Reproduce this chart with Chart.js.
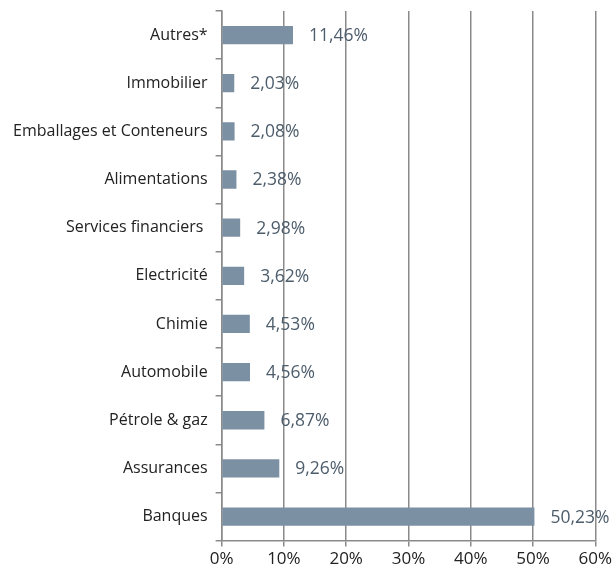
<!DOCTYPE html>
<html>
<head>
<meta charset="utf-8">
<script src="https://cdn.jsdelivr.net/npm/chart.js@4"></script>
<style>
  html, body { margin: 0; padding: 0; background: #fff; }
  #wrap { width: 614px; height: 573px; }
</style>
</head>
<body>
<div id="wrap"><canvas id="barchart"></canvas></div>
<script>
var categories = ['Autres*', 'Immobilier', 'Emballages et Conteneurs', 'Alimentations',
    'Services financiers ', 'Electricité', 'Chimie', 'Automobile', 'Pétrole & gaz',
    'Assurances', 'Banques'];
var values = [11.46, 2.03, 2.08, 2.38, 2.98, 3.62, 4.53, 4.56, 6.87, 9.26, 50.23];
var tickValues = [0, 10, 20, 30, 40, 50, 60];

// draws the "12,34%" labels right of each bar
var valueLabels = {
    id: 'valueLabels',
    afterDatasetsDraw: function (chart) {
        var ctx = chart.ctx;
        var meta = chart.getDatasetMeta(0);
        ctx.save();
        ctx.font = '17.5px "Open Sans"';
        ctx.fillStyle = '#4d5d6c';
        ctx.textAlign = 'left';
        ctx.textBaseline = 'middle';
        meta.data.forEach(function (bar, i) {
            ctx.fillText(values[i].toFixed(2).replace('.', ',') + '%', bar.x + 16, bar.y + 1);
        });
        ctx.restore();
    }
};

var ctx = document.getElementById('barchart').getContext('2d');
var myChart = new Chart(ctx, {
    type: 'bar',
    data: {
        labels: categories,
        datasets: [{
            data: values,
            backgroundColor: '#7b91a3',
            borderWidth: 0,
            categoryPercentage: 1,
            barPercentage: 0.38
        }]
    },
    plugins: [valueLabels],
    options: {
        indexAxis: 'y',
        responsive: true,
        maintainAspectRatio: false,
        animation: false,
        layout: { padding: { top: 11, right: 0, bottom: 2, left: 5 } },
        plugins: {
            legend: { display: false },
            tooltip: { enabled: false }
        },
        scales: {
            x: {
                min: 0,
                max: 60,
                afterBuildTicks: function (axis) {
                    axis.ticks = tickValues.map(function (v) { return { value: v }; });
                },
                ticks: {
                    color: '#222',
                    font: { family: '"Open Sans"', size: 17 },
                    padding: 2,
                    callback: function (v) { return v + '%'; }
                },
                grid: { color: '#8a8a8a', lineWidth: 1.5, tickLength: 6 },
                border: { color: '#8a8a8a', width: 1.5 }
            },
            y: {
                afterFit: function (axis) {
                    axis.paddingTop = 0;
                    axis.paddingBottom = 0;
                },
                ticks: {
                    color: '#222',
                    font: { family: '"Open Sans"', size: 16 },
                    padding: 8
                },
                grid: { drawOnChartArea: false, color: '#8a8a8a', lineWidth: 1.5, tickLength: 6 },
                border: { color: '#8a8a8a', width: 1.5 }
            }
        }
    }
});
</script>
</body>
</html>
